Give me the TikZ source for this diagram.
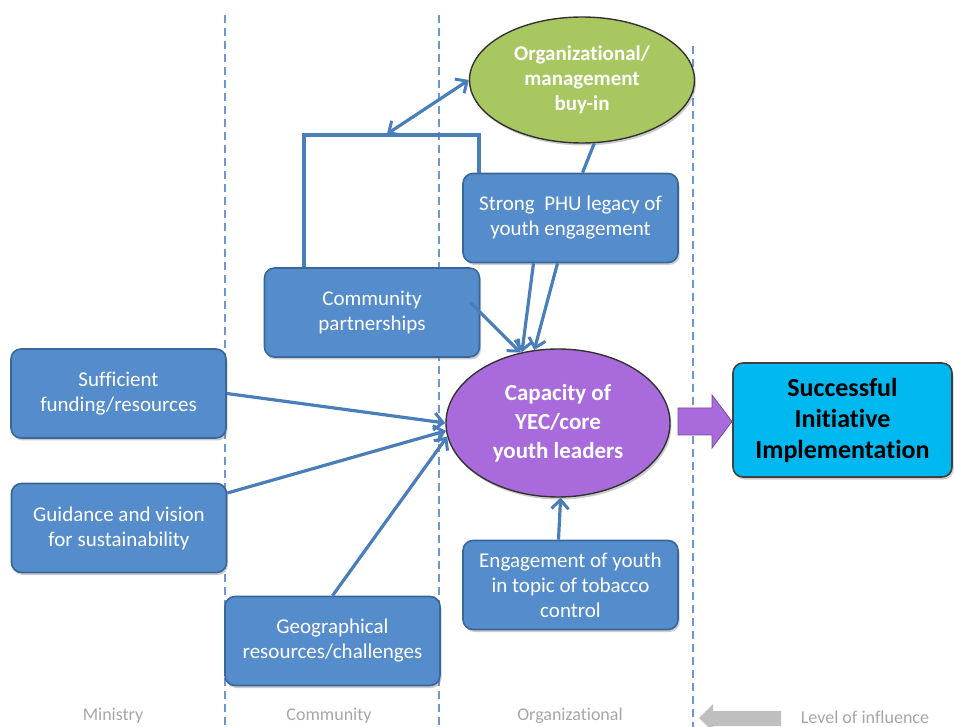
\documentclass[tikz,border=0pt]{standalone}
\usepackage{fontspec}
\setmainfont{Carlito}[Ligatures={NoCommon}]
\usetikzlibrary{shapes.geometric,arrows.meta,shadows}
\definecolor{boxblue}{HTML}{558CCB}
\definecolor{boxedge}{HTML}{3A6799}
\definecolor{connblue}{HTML}{4A7EBB}
\definecolor{dashblue}{HTML}{6F97CF}
\definecolor{buygreen}{HTML}{A8C760}
\definecolor{cappurple}{HTML}{A96BDC}
\definecolor{succcyan}{HTML}{00B8F0}
\definecolor{labgray}{HTML}{A6A6A6}
\definecolor{arrgray}{HTML}{BFBFBF}
\begin{document}
\begin{tikzpicture}[x=1pt,y=-1pt,
  >={Straight Barb[length=9pt,width=17pt,line width=3pt]},
  factor/.style={rectangle, rounded corners=10pt, fill=boxblue, draw=boxedge, line width=1.6pt,
    text=white, align=center, font=\fontsize{21}{25}\selectfont,
    minimum width=215pt, minimum height=89pt, inner sep=2pt,
    execute at begin node={\rule{0pt}{23pt}},
    drop shadow={shadow xshift=1.5pt, shadow yshift=-2.5pt, opacity=0.4}},
  oval/.style={ellipse, draw=black!80, line width=1.4pt, text=white, align=center,
    inner sep=0pt, drop shadow={shadow xshift=1.5pt, shadow yshift=-2.5pt, opacity=0.4}},
  link/.style={draw=connblue, line width=3.2pt},
  divider/.style={draw=dashblue, line width=1.3pt, dash pattern=on 8pt off 5pt},
  levellabel/.style={text=labgray, font=\fontsize{18}{20}\selectfont, inner sep=0pt}
]
\useasboundingbox (0,0) rectangle (954,727);

% dividers
\draw[divider] (225,15) -- (225,727);
\draw[divider] (439,15) -- (439,727);
\draw[divider] (693,46) -- (693,727);

% nodes
\node[factor] (suff) at (118.5,393.5) {Sufficient\\funding/resources};
\node[factor] (guid) at (119,528) {Guidance and vision\\for sustainability};
\node[factor] (geo) at (332.5,641) {Geographical\\resources/challenges};
\node[factor] (comm) at (372,312.5) {Community\\partnerships};
\node[factor] (strong) at (570.5,218) {Strong\ \ PHU legacy of\\youth engagement};
\node[factor] (eng) at (570.5,585) {Engagement of youth\\in topic of tobacco\\control};
\node[oval, fill=buygreen, minimum width=225pt, minimum height=126pt,
  font=\fontsize{21}{25}\selectfont\bfseries] (buy) at (582,80) {Organizational/\\management\\buy-in};
\node[oval, fill=cappurple, minimum width=224pt, minimum height=148pt,
  font=\fontsize{23}{29}\selectfont\bfseries] (cap) at (558,423) {Capacity of\\YEC/core\\youth leaders};
\node[rectangle, rounded corners=10pt, fill=succcyan, draw=black!75, line width=1.6pt,
  minimum width=219pt, minimum height=114pt, align=center, text=black,
  font=\fontsize{26}{31}\selectfont\bfseries,
  execute at begin node={\rule{0pt}{27pt}},
  drop shadow={shadow xshift=1.5pt, shadow yshift=-2.5pt, opacity=0.4}] (succ) at (842.5,420) {Successful\\Initiative\\Implementation};

% big purple arrow
\filldraw[fill=cappurple, draw=cappurple!70!black, line width=0.8pt]
  (678,408) -- (712,408) -- (712,395) -- (732,421.5) -- (712,448) -- (712,435) -- (678,435) -- cycle;

% connectors
\coordinate (bar) at (387,135);
\draw[link] ([xshift=-68pt]comm.north) |- (bar) -| ([xshift=-91.5pt]strong.north);
\draw[link,<->] ([yshift=1pt]bar) -- (buy.180);
\draw[link] ([xshift=12pt]strong.north) -- (buy.281);
\draw[link,->] ([xshift=-37pt]strong.south) -- (cap.117);
\draw[link,->] ([xshift=-13pt]strong.south) -- (cap.108);
\draw[link,->] ([xshift=-10pt,yshift=10pt]comm.east) -- (cap.118);
\draw[link,->] (suff.east) -- (cap.180);
\draw[link,->] ([yshift=35pt]guid.east) -- (cap.184);
\draw[link,->] (geo.north) -- (cap.187);
\draw[link,->] ([xshift=-12pt]eng.north) -- (cap.272);

% level labels
\node[levellabel] (lmin) at (113,716) {Ministry};
\node[levellabel] (lcom) at (329,716) {Community};
\node[levellabel] (lorg) at (570,716) {Organizational};
\node[levellabel] (llev) at (865,717) {Level of influence};
\fill[arrgray] (699,718) -- (713,704) -- (713,711) -- (781,711) -- (781,726) -- (713,726) -- (713,732) -- cycle;
\end{tikzpicture}
\end{document}
